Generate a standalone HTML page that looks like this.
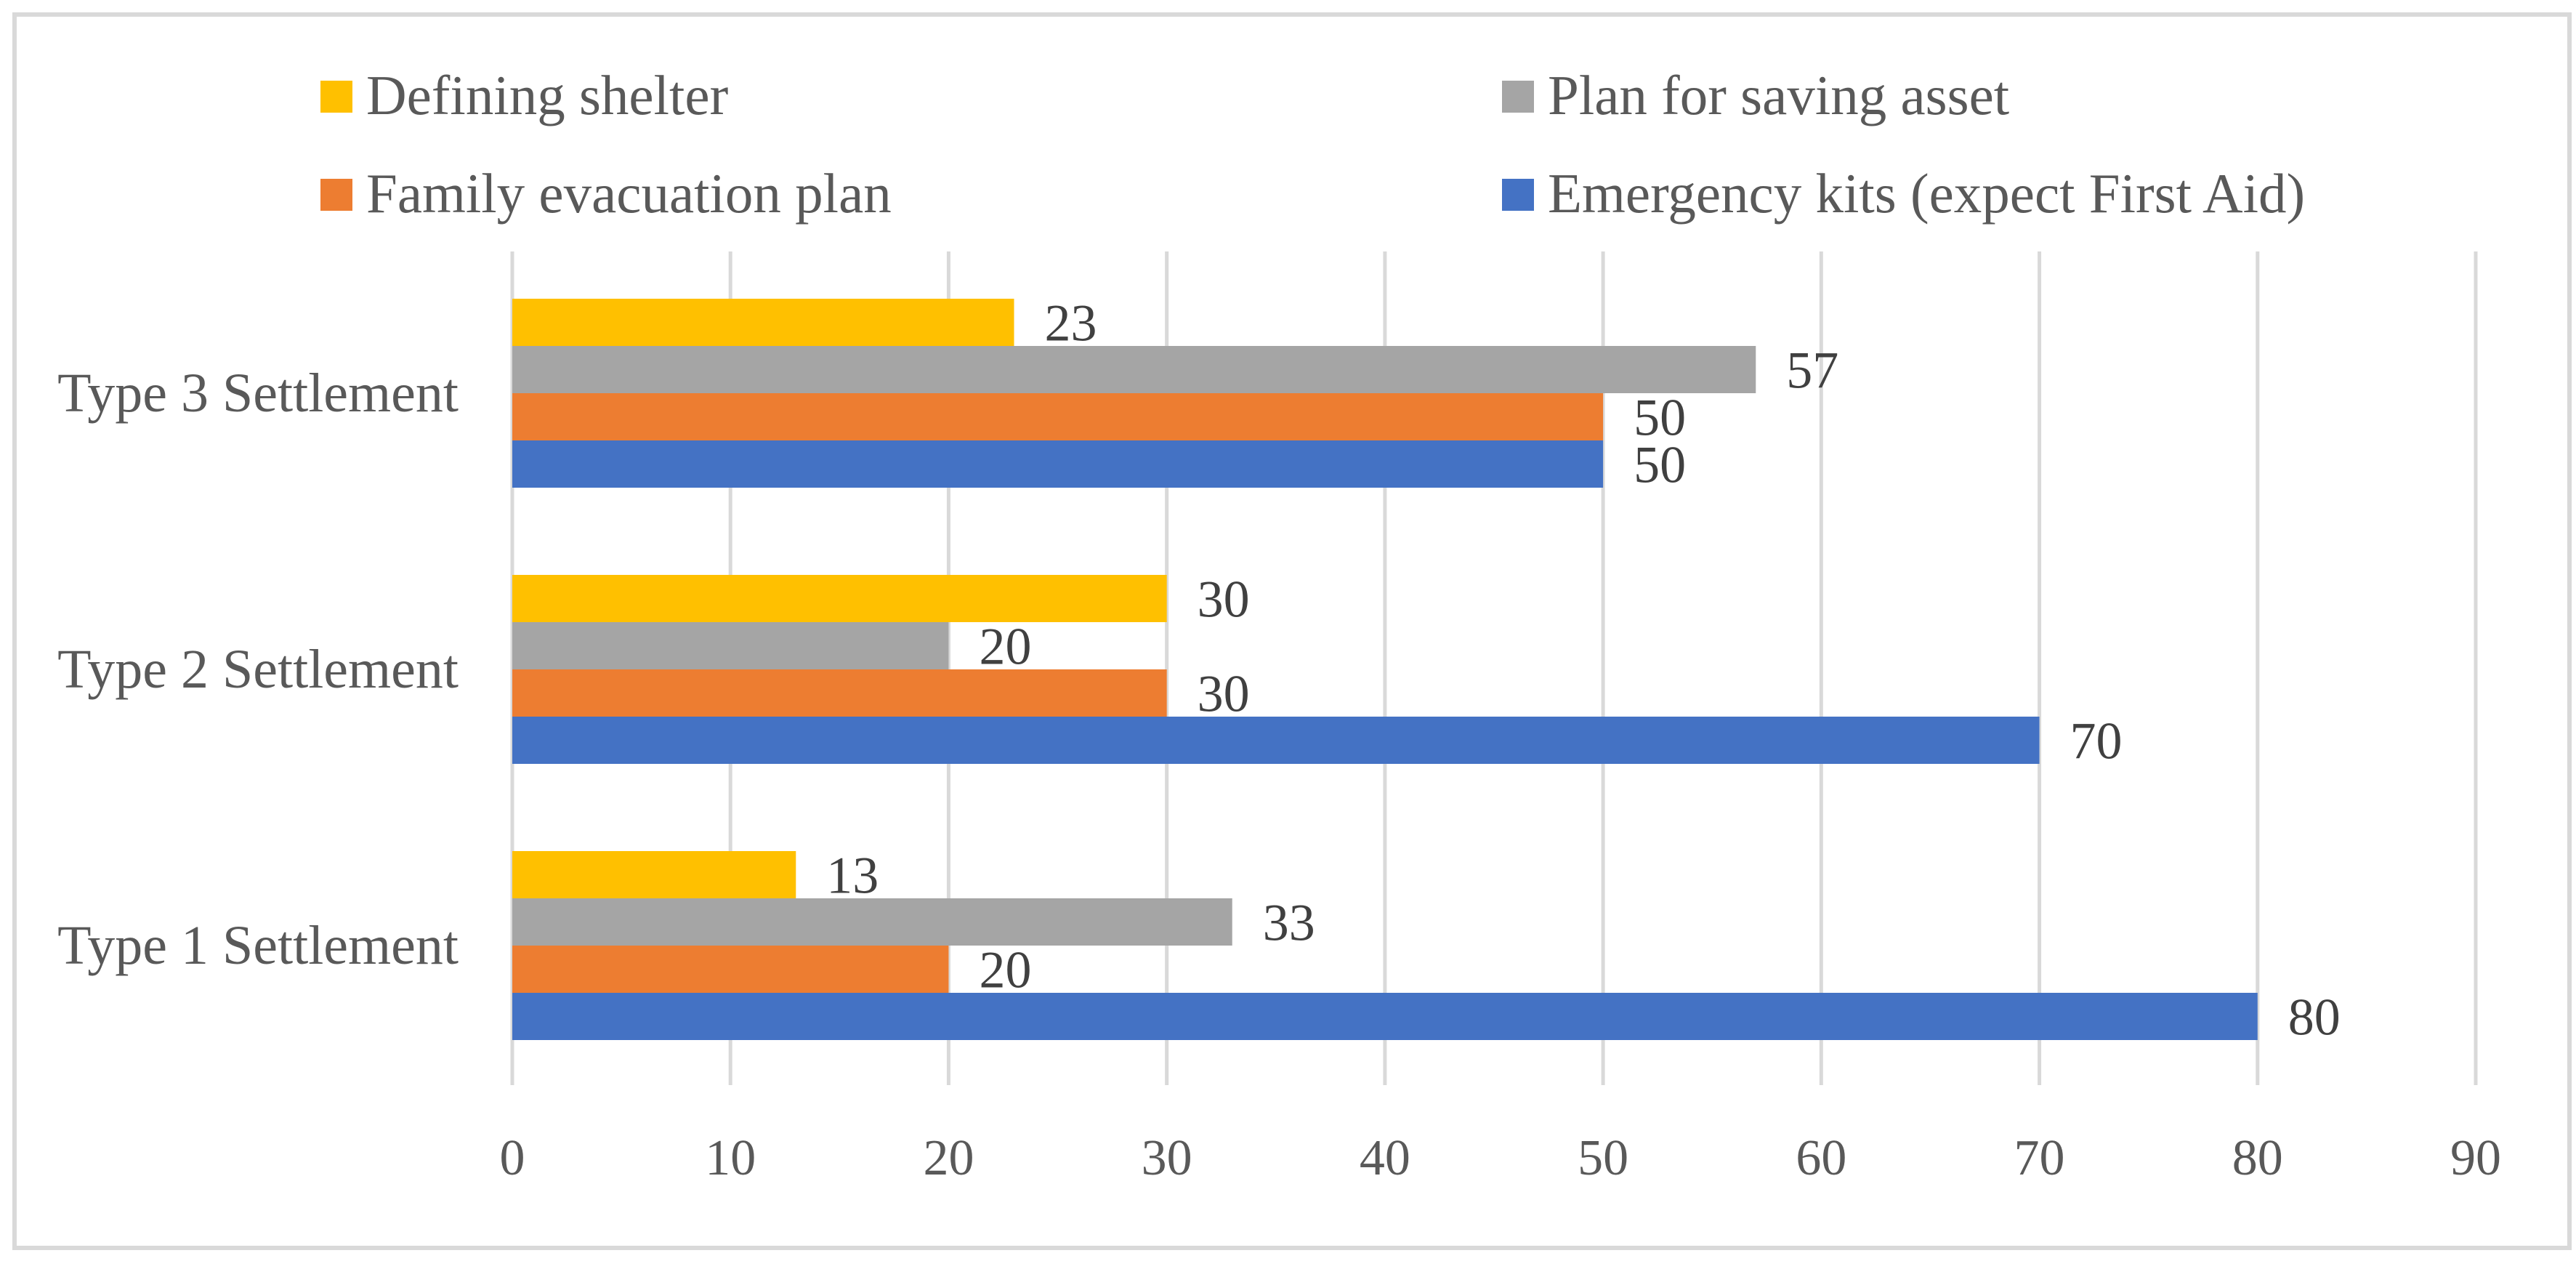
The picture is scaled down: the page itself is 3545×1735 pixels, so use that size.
<!DOCTYPE html>
<html><head><meta charset="utf-8"><style>
html,body{margin:0;padding:0;background:#fff;}
svg{display:block;}
text{font-family:"Liberation Serif",serif;}
</style></head><body>
<svg id="chart" width="3545" height="1735" viewBox="0 0 3545 1735">
<rect x="20" y="20" width="3516" height="1697" fill="#fff" stroke="#d9d9d9" stroke-width="6"/>
<g id="grid"></g>
<g id="bars"></g>
<g id="labels"></g>
<g id="legend"></g>
</svg>
<script>
const categories = ["Type 3 Settlement", "Type 2 Settlement", "Type 1 Settlement"];
const seriesNames = ["Defining shelter", "Plan for saving asset", "Family evacuation plan", "Emergency kits (expect First Aid)"];
const seriesColors = ["#ffc000", "#a5a5a5", "#ed7d31", "#4472c4"];
const definingShelter = [23, 30, 13];
const planSavingAsset = [57, 20, 33];
const familyEvacuation = [50, 30, 20];
const emergencyKits = [50, 70, 80];
const xTicks = [0, 10, 20, 30, 40, 50, 60, 70, 80, 90];

const NS = "http://www.w3.org/2000/svg";
const series = [definingShelter, planSavingAsset, familyEvacuation, emergencyKits];
const x0 = 705, x90 = 3407, gridTop = 346, gridBottom = 1493;
function xScale(v){ return x0 + (v - 0) * (x90 - x0) / 90; }
const groupTop0 = 411, groupStep = 380, barH = 65;
function barY(ci, si){ return groupTop0 + ci * groupStep + si * barH; }
function mk(tag, attrs, parent){ const e = document.createElementNS(NS, tag); for (const k in attrs) e.setAttribute(k, attrs[k]); parent.appendChild(e); return e; }

const grid = document.getElementById('grid');
xTicks.forEach(t => {
  const l = mk('line', {x1: xScale(t), x2: xScale(t), y1: gridTop, y2: gridBottom, stroke: '#d9d9d9', 'stroke-width': 5}, grid);
  
  
  const tx = mk('text', {x: xScale(t), y: 1616, 'font-size': 70, fill: '#595959', 'text-anchor': 'middle'}, grid);
  tx.textContent = t;
  
  
});

const bars = document.getElementById('bars');
const labels = document.getElementById('labels');
categories.forEach((c, ci) => {
  const cy = barY(ci, 0) + 2 * barH;
  const ct = mk('text', {x: 631, y: cy + 25, 'font-size': 76, fill: '#595959', 'text-anchor': 'end'}, labels);
  ct.textContent = c;
  
  
  series.forEach((s, si) => {
    const v = s[ci];
    const r = mk('rect', {x: xScale(0), y: barY(ci, si), width: xScale(v) - xScale(0), height: barH, fill: seriesColors[si]}, bars);
    
    
    const vt = mk('text', {x: xScale(v) + 42, y: barY(ci, si) + barH / 2 + 25, 'font-size': 72, fill: '#404040'}, labels);
    vt.textContent = v;
    
    
  });
});

const legend = document.getElementById('legend');
const legPos = [[441, 111], [2067, 111], [441, 246], [2067, 246]];
seriesNames.forEach((n, i) => {
  const [lx, ly] = legPos[i];
  const sq = mk('rect', {x: lx, y: ly, width: 44, height: 44, fill: seriesColors[i]}, legend);
  
  
  const t = mk('text', {x: lx + 63, y: ly + 46, 'font-size': 77, fill: '#595959'}, legend);
  t.textContent = n;
  
  
});
</script>
</body></html>
